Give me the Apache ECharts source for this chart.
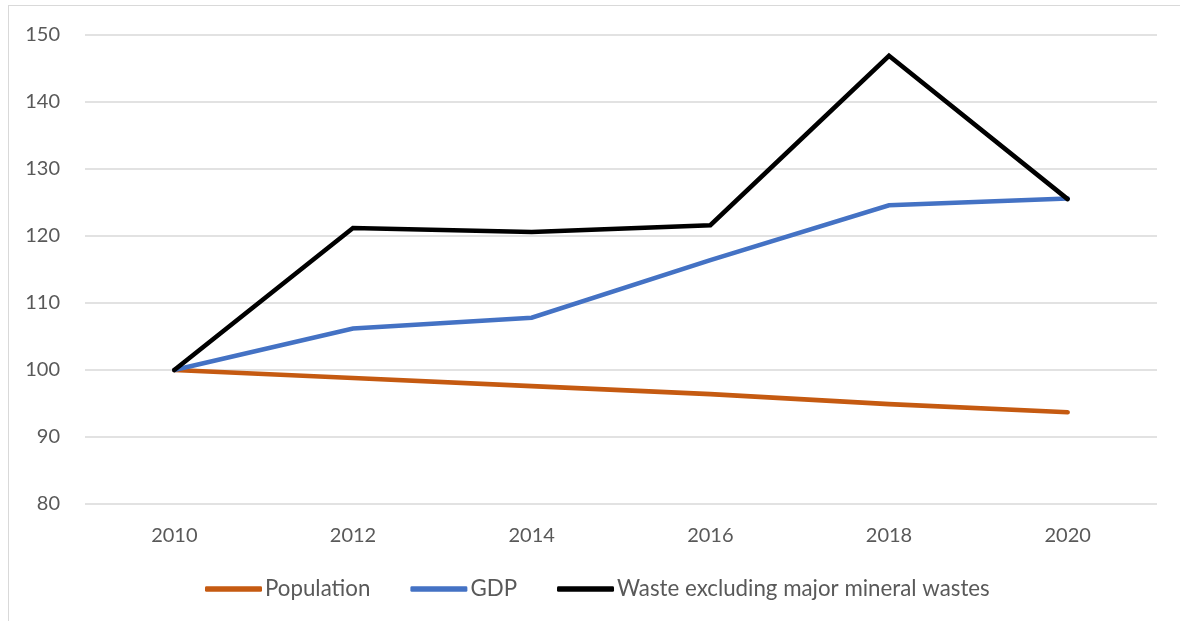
<!DOCTYPE html>
<html><head><meta charset="utf-8">
<script src="https://cdn.jsdelivr.net/npm/echarts@6/dist/echarts.min.js"></script>
<style>
html,body{margin:0;padding:0;background:#fff;}
#frame{position:absolute;left:8px;top:5px;width:1200px;height:700px;border-left:1.5px solid #d9d9d9;border-top:1.5px solid #d9d9d9;}
#c{position:absolute;left:0;top:0;width:1180px;height:621px;}
</style></head>
<body>
<div id="frame"></div>
<div id="c"></div>
<script>
const years = ['2010','2012','2014','2016','2018','2020'];
const population = [100, 98.8, 97.6, 96.4, 94.9, 93.7];
const gdp = [100, 106.2, 107.8, 116.4, 124.6, 125.6];
const waste = [100, 121.2, 120.6, 121.6, 146.9, 125.5];

const chart = echarts.init(document.getElementById('c'));
const font = 'Lato, "Open Sans", sans-serif';
const mk = (name, data, color) => ({
  name, type: 'line', data, symbol: 'none', smooth: false,
  lineStyle: {color, width: 4.6, cap: 'round', join: 'miter'},
  itemStyle: {color}
});
chart.setOption({
  animation: false,
  textStyle: {fontFamily: font},
  grid: {left: 85, right: 23, top: 35, bottom: 117},
  legend: {
    bottom: 16, left: 200,
    icon: 'roundRect', itemWidth: 57, itemHeight: 5.5, itemGap: 40,
    textStyle: {color: '#595959', fontSize: 22.3, fontFamily: font, padding: [0,0,0,-2]},
    data: ['Population','GDP','Waste excluding major mineral wastes']
  },
  xAxis: {
    type: 'category', data: years, boundaryGap: true,
    axisLine: {show: false}, axisTick: {show: false},
    axisLabel: {color: '#595959', fontSize: 20, margin: 22, fontFamily: font}
  },
  yAxis: {
    type: 'value', min: 80, max: 150, interval: 10,
    axisLine: {show: false}, axisTick: {show: false},
    splitLine: {lineStyle: {color: '#d9d9d9', width: 1.5}},
    axisLabel: {color: '#595959', fontSize: 20, margin: 25, fontFamily: font}
  },
  series: [
    mk('Population', population, '#C55A11'),
    mk('GDP', gdp, '#4472C4'),
    mk('Waste excluding major mineral wastes', waste, '#000000')
  ]
});
</script>
</body></html>
